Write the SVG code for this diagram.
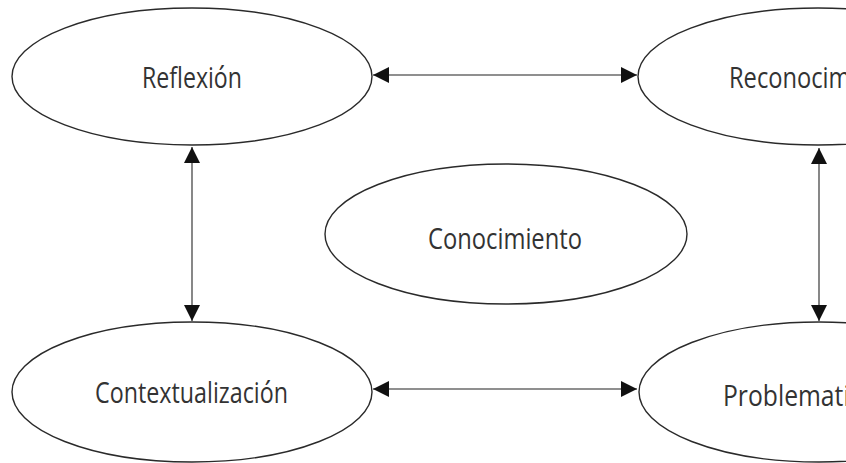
<svg xmlns="http://www.w3.org/2000/svg" width="846" height="463" viewBox="0 0 846 463">
<style>
.node ellipse{fill:#fff;stroke:#2a2a2a;stroke-width:1.4}
.node text{font-family:"Open Sans","DejaVu Sans",sans-serif;font-size:29px;fill:#333;text-anchor:middle}
.conn line{stroke:#6a6a6a;stroke-width:1.6}
</style>
<defs>
<marker id="ah" viewBox="0 0 16 16" refX="16" refY="8" markerWidth="16" markerHeight="16" markerUnits="userSpaceOnUse" orient="auto-start-reverse">
<path d="M0,0 L16,8 L0,16 Z" fill="#111"/>
</marker>
</defs>
<rect width="846" height="463" fill="#fff"/>
<g class="conn">
<line x1="373" y1="75" x2="637" y2="75" marker-start="url(#ah)" marker-end="url(#ah)"/>
<line x1="373" y1="389" x2="637" y2="389" marker-start="url(#ah)" marker-end="url(#ah)"/>
<line x1="192" y1="147" x2="192" y2="321" marker-start="url(#ah)" marker-end="url(#ah)"/>
<line x1="819" y1="148" x2="819" y2="321" marker-start="url(#ah)" marker-end="url(#ah)"/>
</g>
<g id="reflexion" class="node">
<ellipse cx="192" cy="76.5" rx="180" ry="68.5"/>
<text x="192" y="88" textLength="100" lengthAdjust="spacingAndGlyphs">Reflexión</text>
</g>
<g id="reconocimiento" class="node">
<ellipse cx="818" cy="76.5" rx="180" ry="68.5"/>
<text x="818" y="88" textLength="178" lengthAdjust="spacingAndGlyphs">Reconocimiento</text>
</g>
<g id="conocimiento" class="node">
<ellipse cx="506" cy="234" rx="181" ry="70"/>
<text x="505" y="249" textLength="154" lengthAdjust="spacingAndGlyphs">Conocimiento</text>
</g>
<g id="contextualizacion" class="node">
<ellipse cx="192" cy="392" rx="180" ry="70"/>
<text x="191.5" y="403" textLength="193" lengthAdjust="spacingAndGlyphs">Contextualización</text>
</g>
<g id="problematizacion" class="node">
<ellipse cx="819" cy="392" rx="180" ry="70"/>
<text x="823" y="406" textLength="200" lengthAdjust="spacingAndGlyphs">Problematización</text>
</g>
</svg>
